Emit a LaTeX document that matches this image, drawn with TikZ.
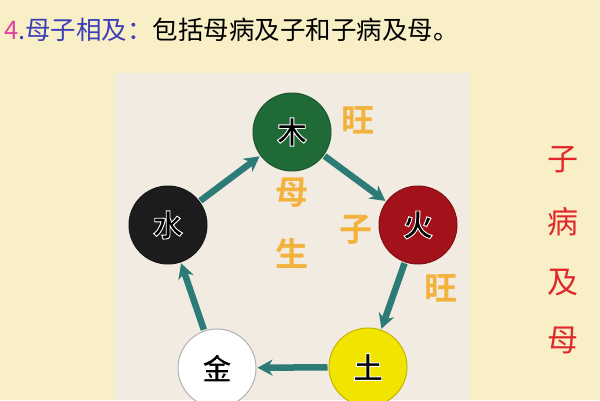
\documentclass[tikz,border=0pt]{standalone}
\usepackage{fontspec}
\newfontfamily\cjk{Noto Sans CJK SC}
\newfontfamily\cjkb{Noto Sans CJK SC Bold}
\usetikzlibrary{arrows.meta}
\definecolor{bgY}{HTML}{F8EFC6}
\definecolor{panel}{HTML}{F1EBE1}
\definecolor{teal}{HTML}{2C7B77}
\definecolor{wood}{HTML}{1F6A36}
\definecolor{fire}{HTML}{A3121A}
\definecolor{water}{HTML}{1C1C1C}
\definecolor{earth}{HTML}{F1E400}
\definecolor{gold}{HTML}{F2B23C}
\definecolor{redT}{HTML}{E0282A}
\definecolor{blueT}{HTML}{3C3FB8}
\definecolor{pinkT}{HTML}{E0449E}
\newcommand{\outlined}[1]{{\color{black}\special{pdf:literal direct 2 Tr 0.9 w 1 1 1 RG}#1\special{pdf:literal direct 0 Tr}}}
\begin{document}
\begin{tikzpicture}[x=1pt,y=-1pt,
  elem/.style={circle,minimum size=78pt,inner sep=0pt,draw=#1!80!black,line width=1pt,fill=#1,text=black,font=\cjkb\fontsize{30}{30}\selectfont},
  gen/.style={draw=teal,line width=6.5pt,-{Stealth[length=15pt,width=16pt]},shorten <=1pt,shorten >=1pt},
  goldlbl/.style={text=gold,font=\cjkb\fontsize{33}{33}\selectfont,inner sep=0pt},
  redlbl/.style={text=redT,font=\cjk\fontsize{31}{31}\selectfont,inner sep=0pt}]
\useasboundingbox (0,0) rectangle (600,400);
\fill[bgY] (0,0) rectangle (600,400);
\fill[panel] (115,73) rectangle (470,400);
% title
\node[anchor=west,inner sep=0pt] (title) at (4,30) {\cjk\fontsize{25.5}{25.5}\selectfont{\color{pinkT}4}{\color{blueT}.母子相及：}包括母病及子和子病及母。};
% elements
\node[elem=wood] (mu) at (292,132) {\outlined{木}};
\node[elem=fire] (huo) at (418,225) {\outlined{火}};
\node[elem=earth] (tu) at (368,367) {\outlined{土}};
\node[elem=white,draw=gray!60] (jin) at (217,368) {\outlined{金}};
\node[elem=water] (shui) at (168,225) {\outlined{水}};
% arrows
\draw[gen] (mu) -- (huo);
\draw[gen] (huo) -- (tu);
\draw[gen] (tu) -- (jin);
\draw[gen] (jin) -- (shui);
\draw[gen] (shui) -- (mu);
% gold labels
\node[goldlbl] (wang1) at (358,120) {旺};
\node[goldlbl] (wang2) at (441,288) {旺};
\node[goldlbl] (mother) at (292,193) {母};
\node[goldlbl] (child) at (356,230) {子};
\node[goldlbl] (sheng) at (292,253) {生};
% right red column
\node[redlbl] (r1) at (563,160) {子};
\node[redlbl] (r2) at (563,222) {病};
\node[redlbl] (r3) at (563,283) {及};
\node[redlbl] (r4) at (563,340) {母};
\end{tikzpicture}
\end{document}
